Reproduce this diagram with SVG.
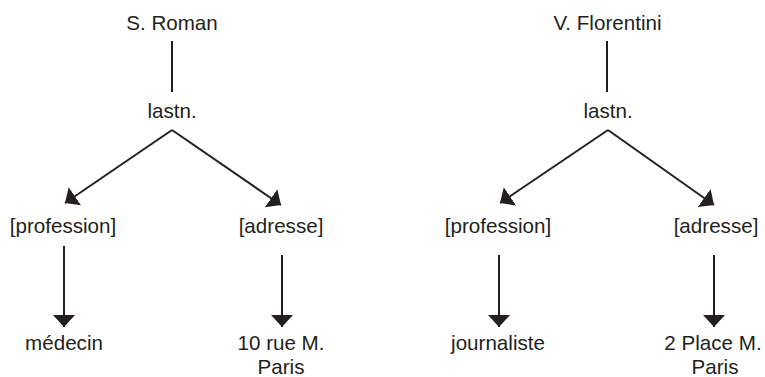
<svg xmlns="http://www.w3.org/2000/svg" width="765" height="377" viewBox="0 0 765 377">
<style>
text{font-family:"Liberation Sans",Arial,sans-serif;font-size:20.6px;fill:#231f20;text-anchor:middle}
.c line{stroke:#231f20;stroke-width:2;fill:none}
.a{marker-end:url(#ah)}
</style>
<defs>
<marker id="ah" viewBox="0 0 12 22" markerWidth="12" markerHeight="22" refX="12" refY="11" orient="auto" markerUnits="userSpaceOnUse">
<path d="M0,0 L12,11 L0,22 z" fill="#231f20"/>
</marker>
</defs>
<rect width="765" height="377" fill="#fff"/>
<g class="c" id="connectors">
<line x1="172" y1="41" x2="172" y2="92"/>
<line class="a" x1="172" y1="130" x2="65" y2="203"/>
<line class="a" x1="172" y1="130" x2="281" y2="205"/>
<line class="a" x1="64" y1="246" x2="64" y2="327"/>
<line class="a" x1="282" y1="255" x2="282" y2="327"/>
<line x1="607" y1="41" x2="607" y2="92"/>
<line class="a" x1="608" y1="130" x2="500" y2="203"/>
<line class="a" x1="608" y1="130" x2="714" y2="205"/>
<line class="a" x1="499" y1="255" x2="499" y2="327"/>
<line class="a" x1="714" y1="255" x2="714" y2="327"/>
</g>
<g id="n-sroman"><text x="172" y="30">S. Roman</text></g>
<g id="n-lastn1"><text x="172" y="118">lastn.</text></g>
<g id="n-prof1"><text x="63" y="233">[profession]</text></g>
<g id="n-adr1"><text x="281" y="233">[adresse]</text></g>
<g id="n-medecin"><text x="64" y="350">médecin</text></g>
<g id="n-addr1"><text x="281" y="350">10 rue M.</text><text x="281" y="374">Paris</text></g>
<g id="n-vflorentini"><text x="607.5" y="30">V. Florentini</text></g>
<g id="n-lastn2"><text x="608" y="118">lastn.</text></g>
<g id="n-prof2"><text x="498" y="233">[profession]</text></g>
<g id="n-adr2"><text x="716" y="233">[adresse]</text></g>
<g id="n-journaliste"><text x="498" y="350">journaliste</text></g>
<g id="n-addr2"><text x="713" y="350">2 Place M.</text><text x="715" y="374">Paris</text></g>
</svg>
